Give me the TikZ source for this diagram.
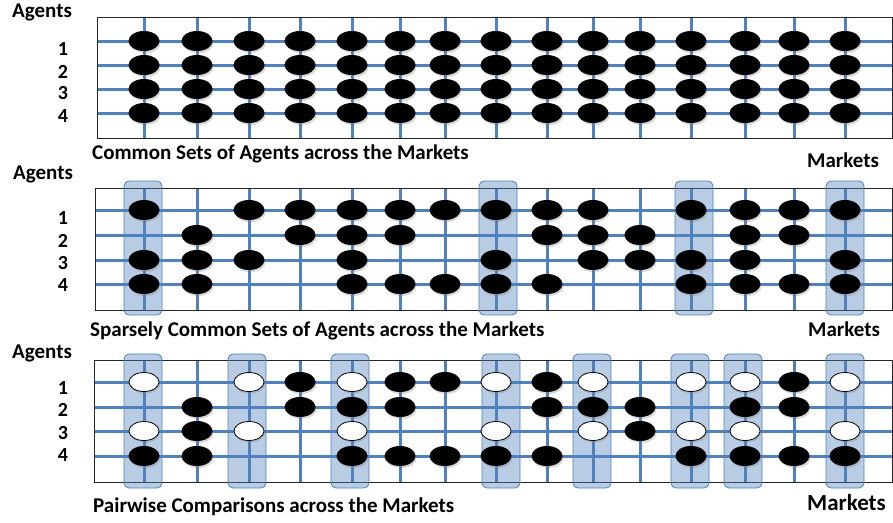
\documentclass[tikz,border=0pt]{standalone}
\usepackage{fontspec}
\setmainfont{Carlito}
\usetikzlibrary{shapes.geometric,shadows}
\definecolor{lineblue}{RGB}{79,129,189}
\tikzset{
  gridline/.style={lineblue, line width=3pt},
  panelbox/.style={draw=black!85, line width=1pt},
  dotshadow/.style={drop shadow={opacity=0.3, shadow xshift=1.2pt, shadow yshift=-2pt}},
  dotf/.style={ellipse, fill=black, minimum width=31pt, minimum height=20pt, inner sep=0pt, dotshadow},
  doto/.style={ellipse, draw=black, line width=0.8pt, fill=white, minimum width=30pt, minimum height=19pt, inner sep=0pt, dotshadow},
  hl/.style={draw=lineblue, line width=0.8pt, fill=lineblue, fill opacity=0.4, rounded corners=5pt},
  lab/.style={font=\bfseries\fontsize{21}{24}\selectfont, anchor=base west, inner sep=0pt},
  labbig/.style={font=\bfseries\fontsize{23}{26}\selectfont, anchor=base west, inner sep=0pt},
  num/.style={font=\bfseries\fontsize{20}{24}\selectfont, anchor=base, inner sep=0pt},
}
\def\xs{144,197,249,300,352,400,445,496,547,593,640,691,745,794,845}
\begin{document}
\begin{tikzpicture}[x=1pt,y=-1pt]
\useasboundingbox[fill=white] (0,0) rectangle (893,522);

% ---------------- Top panel ----------------
\node[lab] (agT) at (12,17) {Agents};
\foreach \n/\y in {1/55,2/78,3/99,4/122} \node[num] (nT\n) at (63,\y) {\n};
\foreach \x in \xs \draw[gridline] (\x,17) -- (\x,138);
\foreach \y in {41,65,89,113} \draw[gridline] (97,\y) -- (892,\y);
\draw[panelbox] (97,17) rectangle (892,138);
\foreach \x [count=\c] in \xs
  \foreach \y [count=\r] in {41,65,89,113}
    \node[dotf] (t\c-\r) at (\x,\y) {};
\node[lab] (titleT) at (92,159) {Common Sets of Agents across the Markets};
\node[lab] (mkT) at (807,167) {Markets};

% ---------------- Middle panel ----------------
\node[lab] (agM) at (13,179) {Agents};
\foreach \n/\y in {1/224,2/247,3/269,4/291} \node[num] (nM\n) at (63,\y) {\n};
\foreach \x in \xs \draw[gridline] (\x,188) -- (\x,310);
\foreach \y in {210,235,260,284} \draw[gridline] (95,\y) -- (892,\y);
\draw[panelbox] (95,188) rectangle (892,310);
\foreach \x in {143,498,694,845} \draw[hl] (\x-19,181) rectangle (\x+19,315);
\foreach \x/\lst [count=\c] in {144/{1,3,4},197/{2,3,4},249/{1,3},300/{1,2},352/{1,2,3,4},400/{1,2,4},445/{1,4},496/{1,3,4},547/{1,2,4},593/{1,2,3},640/{2,3},691/{1,3,4},745/{1,2,3,4},794/{1,2,4},845/{1,3,4}}
  \foreach \r in \lst {
    \pgfmathsetmacro\yy{{210,235,260,284}[\r-1]}
    \node[dotf] (m\c-\r) at (\x,\yy) {};
  }
\node[lab] (titleM) at (90,336) {Sparsely Common Sets of Agents across the Markets};
\node[lab] (mkM) at (808,336) {Markets};

% ---------------- Bottom panel ----------------
\node[lab] (agB) at (12,358) {Agents};
\foreach \n/\y in {1/394,2/416,3/439,4/461} \node[num] (nB\n) at (63,\y) {\n};
\foreach \x in \xs \draw[gridline] (\x,360) -- (\x,482);
\foreach \y in {382,407,431,456} \draw[gridline] (94,\y) -- (892,\y);
\draw[panelbox] (94,360) rectangle (892,482);
\foreach \x in {143,247,350,501,592,690,743,845} \draw[hl] (\x-19,354) rectangle (\x+19,488);
\foreach \x/\lst [count=\c] in {144/{1/o,3/o,4/f},197/{2/f,3/f,4/f},249/{1/o,3/o},300/{1/f,2/f},352/{1/o,2/f,3/o,4/f},400/{1/f,2/f,4/f},445/{1/f,4/f},496/{1/o,3/o,4/f},547/{1/f,2/f,4/f},593/{1/o,2/f,3/o},640/{2/f,3/f},691/{1/o,3/o,4/f},745/{1/o,2/f,3/o,4/f},794/{1/f,2/f,4/f},845/{1/o,3/o,4/f}}
  \foreach \r/\t in \lst {
    \pgfmathsetmacro\yy{{382,407,431,456}[\r-1]}
    \node[dot\t] (b\c-\r) at (\x,\yy) {};
  }
\node[lab] (titleB) at (93,512) {Pairwise Comparisons across the Markets};
\node[labbig] (mkB) at (807,510) {Markets};
\end{tikzpicture}
\end{document}
